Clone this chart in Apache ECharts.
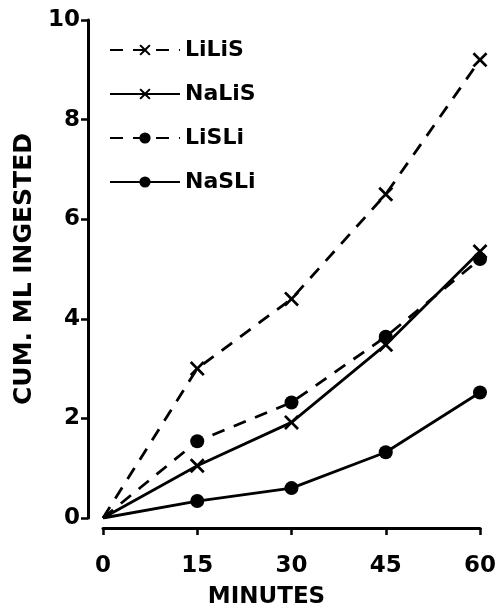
<!DOCTYPE html>
<html>
<head>
<meta charset="utf-8">
<script src="https://cdn.jsdelivr.net/npm/echarts@6/dist/echarts.min.js"></script>
<style>
  html, body { margin: 0; padding: 0; background: #fff; }
  #chart { width: 498px; height: 610px; }
</style>
</head>
<body>
<div id="chart"></div>
<script>
var minutes = [0, 15, 30, 45, 60];
var liLiS = [0, 3.0, 4.4, 6.5, 9.2];
var naLiS = [0, 1.05, 1.92, 3.48, 5.35];
var liSLi = [0, 1.54, 2.32, 3.64, 5.2];
var naSLi = [0, 0.34, 0.6, 1.32, 2.52];

var cross = 'path://M0,1.3 L1.3,0 L5,3.7 L8.7,0 L10,1.3 L6.3,5 L10,8.7 L8.7,10 L5,6.3 L1.3,10 L0,8.7 L3.7,5 Z';
var font = 'DejaVu Sans';

function pairs(vals) {
  return minutes.map(function (m, i) {
    var p = { value: [m, vals[i]] };
    if (i === 0) p.symbol = 'none';
    return p;
  });
}

function makeSeries(name, vals, dashed, symbol, size) {
  return {
    name: name,
    type: 'line',
    data: pairs(vals),
    symbol: symbol,
    symbolSize: size,
    showAllSymbol: true,
    lineStyle: { color: '#000', width: 2.8, type: dashed ? [13, 10] : 'solid' },
    itemStyle: { color: '#000' },
    animation: false
  };
}

var chart = echarts.init(document.getElementById('chart'));
chart.setOption({
  animation: false,
  grid: { left: 103, right: 18, top: 20, bottom: 92, containLabel: false, outerBoundsMode: 'none' },
  legend: {
    orient: 'vertical',
    left: 104,
    top: 34,
    itemWidth: 70,
    itemHeight: 14,
    itemGap: 22,
    textStyle: { fontFamily: font, fontSize: 22, fontWeight: 'bold', color: '#000' },
    data: ['LiLiS', 'NaLiS', 'LiSLi', 'NaSLi']
  },
  xAxis: {
    type: 'value',
    min: 0, max: 60, interval: 15,
    offset: 10,
    name: 'MINUTES',
    nameLocation: 'middle',
    nameGap: 58,
    nameTextStyle: { fontFamily: font, fontSize: 23, fontWeight: 'bold', color: '#000', padding: [0, 50, 0, 0] },
    axisLine: { onZero: false, lineStyle: { color: '#000', width: 3 } },
    axisTick: { inside: false, length: 7, lineStyle: { color: '#000', width: 2.5 } },
    axisLabel: { fontFamily: font, fontSize: 23, fontWeight: 'bold', color: '#000', margin: 27 },
    splitLine: { show: false }
  },
  yAxis: {
    type: 'value',
    min: 0, max: 10, interval: 2,
    offset: 15,
    name: 'CUM. ML INGESTED',
    nameLocation: 'middle',
    nameGap: 36,
    nameTextStyle: { fontFamily: font, fontSize: 25, fontWeight: 'bold', color: '#000' },
    axisLine: { onZero: false, lineStyle: { color: '#000', width: 3 } },
    axisTick: { inside: false, length: 7, lineStyle: { color: '#000', width: 2.5 } },
    axisLabel: { fontFamily: font, fontSize: 23, fontWeight: 'bold', color: '#000', margin: 8 },
    splitLine: { show: false }
  },
  series: [
    makeSeries('LiLiS', liLiS, true, cross, 15),
    makeSeries('NaLiS', naLiS, false, cross, 15),
    makeSeries('LiSLi', liSLi, true, 'circle', 14),
    makeSeries('NaSLi', naSLi, false, 'circle', 14)
  ]
});
</script>
</body>
</html>
